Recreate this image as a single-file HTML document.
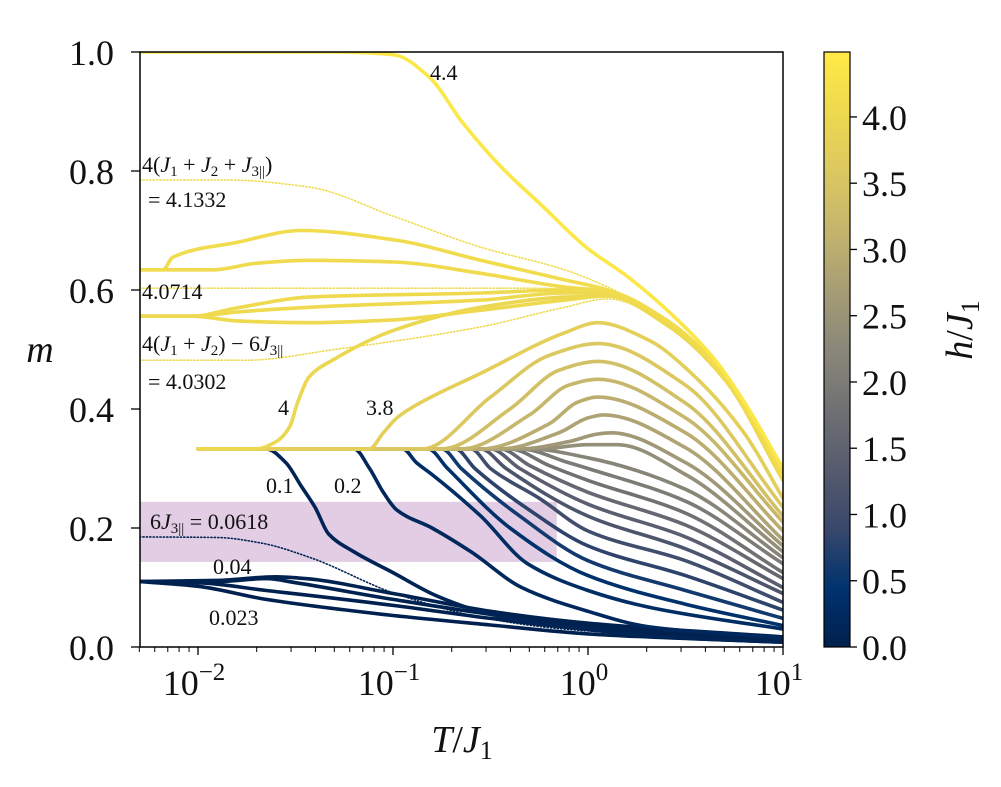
<!DOCTYPE html>
<html><head><meta charset="utf-8"><style>
html,body{margin:0;padding:0;background:#fff;}
svg text{font-family:"Liberation Serif",serif;fill:#111;}
</style></head><body>
<svg id="chart" width="1001" height="782" viewBox="0 0 1001 782" xmlns="http://www.w3.org/2000/svg">
<defs>
<clipPath id="plotclip"><rect x="140" y="52" width="643" height="595"/></clipPath>
<linearGradient id="cbgrad" x1="0" y1="1" x2="0" y2="0">
<stop offset="0" stop-color="#00204d"/><stop offset="0.1" stop-color="#00336f"/><stop offset="0.2" stop-color="#39486b"/><stop offset="0.3" stop-color="#575c6e"/><stop offset="0.4" stop-color="#707173"/><stop offset="0.5" stop-color="#8a8779"/><stop offset="0.6" stop-color="#a69d75"/><stop offset="0.7" stop-color="#c4b56c"/><stop offset="0.8" stop-color="#dcc860"/><stop offset="0.9" stop-color="#eed94f"/><stop offset="1" stop-color="#ffea46"/>
</linearGradient>
</defs>
<rect x="140" y="52" width="643" height="595" fill="#fff"/>
<g id="bandg" clip-path="url(#plotclip)"></g>
<g id="curves" clip-path="url(#plotclip)"></g>
<rect x="140" y="52" width="643" height="595" fill="none" stroke="#000" stroke-width="1.5"/>
<g id="axes"></g>
<g id="annot" font-size="22">
<text x="430" y="80">4.4</text>
<text x="142" y="172">4(<tspan font-style="italic">J</tspan><tspan font-size="15" dy="4">1</tspan><tspan dy="-4"> + </tspan><tspan font-style="italic">J</tspan><tspan font-size="15" dy="4">2</tspan><tspan dy="-4"> + </tspan><tspan font-style="italic">J</tspan><tspan font-size="15" dy="4">3||</tspan><tspan dy="-4">)</tspan></text>
<text x="148" y="207">= 4.1332</text>
<text x="142" y="299">4.0714</text>
<text x="142" y="351">4(<tspan font-style="italic">J</tspan><tspan font-size="15" dy="4">1</tspan><tspan dy="-4"> + </tspan><tspan font-style="italic">J</tspan><tspan font-size="15" dy="4">2</tspan><tspan dy="-4">) − 6</tspan><tspan font-style="italic">J</tspan><tspan font-size="15" dy="4">3||</tspan></text>
<text x="148" y="389">= 4.0302</text>
<text x="278" y="415">4</text>
<text x="366" y="415">3.8</text>
<text x="266" y="493">0.1</text>
<text x="334" y="493">0.2</text>
<text x="150" y="529">6<tspan font-style="italic">J</tspan><tspan font-size="15" dy="4">3||</tspan><tspan dy="-4"> = 0.0618</tspan></text>
<text x="213" y="574">0.04</text>
<text x="209" y="625">0.023</text>
</g>
<rect x="824" y="52" width="26" height="595" fill="url(#cbgrad)" stroke="#000" stroke-width="1.2"/>
<g id="cbaxis"></g>
<text x="40" y="362" font-size="38" font-style="italic" text-anchor="middle">m</text>
<text x="462" y="752" font-size="38" text-anchor="middle"><tspan font-style="italic">T</tspan>/<tspan font-style="italic">J</tspan><tspan font-size="26" dy="7">1</tspan></text>
<text transform="translate(972,330) rotate(-90)" font-size="38" text-anchor="middle"><tspan font-style="italic">h</tspan>/<tspan font-style="italic">J</tspan><tspan font-size="26" dy="7">1</tspan></text>
</svg>
<script>
// ---- data ----
const xTickExps = [-2, -1, 0, 1];
const yTickValues = [0.0, 0.2, 0.4, 0.6, 0.8, 1.0];
const yTickLabels = ["0.0", "0.2", "0.4", "0.6", "0.8", "1.0"];
const cbTickValues = [0, 0.5, 1, 1.5, 2, 2.5, 3, 3.5, 4];
const cbTickLabels = ["0.0", "0.5", "1.0", "1.5", "2.0", "2.5", "3.0", "3.5", "4.0"];
const bandRange = [0.143, 0.244];
const bandLogTMax = -0.16;
const seriesH = [0.023,0.03,0.04,0.05,0.0618,0.1,0.2,0.3,0.4,0.6,0.8,1.0,1.2,1.4,1.6,1.8,2.0,2.2,2.4,2.6,2.8,3.0,3.2,3.4,3.6,3.8,4.0,4.0302,4.04,4.05,4.06,4.0714,4.1,4.12,4.1332,4.4];
const seriesDotted = [0,0,0,0,1,0,0,0,0,0,0,0,0,0,0,0,0,0,0,0,0,0,0,0,0,0,0,1,0,0,0,1,0,0,1,0];
const seriesLogT = [
[-2.3,-2,-1.65,-1,-0.5,0,1],
[-2.3,-2,-1.65,-1,-0.5,0,1],
[-2.3,-1.9,-1.65,-1.5,-1,-0.5,0,1],
[-2.3,-1.9,-1.6,-1.45,-1,-0.5,0,1],
[-2.3,-1.9,-1.68,-1.43,-0.99,-0.55,-0.12,0.5,1],
[-2,-1.65,-1.55,-1.47,-1.4,-1.33,-1.2,-1,-0.77,-0.5,-0.12,0.5,1],
[-2,-1.2,-1.12,-1.05,-0.98,-0.8,-0.6,-0.34,0,0.31,1],
[-2,-0.95,-0.88,-0.8,-0.55,-0.31,0,0.31,1],
[-2,-0.82,-0.72,-0.4,0,0.5,1],
[-2,-0.75,-0.65,-0.35,0,0.5,1],
[-2,-0.68,-0.58,-0.3,0,0.5,1],
[-2,-0.6,-0.5,-0.25,0,0.5,1],
[-2,-0.55,-0.42,0,0.5,1],
[-2,-0.5,-0.35,0,0.5,1],
[-2,-0.45,-0.3,0,0.5,1],
[-2,-0.4,-0.2,0,0.5,1],
[-2,-0.35,-0.1,0,0.5,1],
[-2,-0.3,0,0.5,1],
[-2,-0.25,0,0.15,0.5,1],
[-2,-0.35,-0.1,0.05,0.12,0.5,1],
[-2,-0.45,-0.15,0,0.08,0.5,1],
[-2,-0.55,-0.2,-0.05,0.05,0.5,1],
[-2,-0.65,-0.3,-0.1,0.05,0.5,1],
[-2,-0.75,-0.4,-0.15,0.05,0.5,1],
[-2,-0.85,-0.5,-0.2,0.05,0.5,1],
[-2,-1.12,-1.05,-0.98,-0.9,-0.55,-0.12,0.05,0.31,0.53,0.8,1],
[-2,-1.7,-1.6,-1.53,-1.49,-1.43,-1.31,-0.99,-0.55,-0.12,0.1,0.4,0.7,1],
[-2.3,-1.75,-1.3,-0.55,-0.12,0.1,0.4,0.7,1],
[-2.3,-2.03,-1.8,-1.43,-0.99,-0.55,-0.12,0.1,0.4,0.7,1],
[-2.3,-2.03,-1.8,-1.43,-0.55,-0.12,0.1,0.4,0.7,1],
[-2.3,-2.03,-1.8,-1.43,-0.55,-0.12,0.1,0.4,0.7,1],
[-2.3,-1,-0.3,0.1,0.4,0.7,1],
[-2.3,-1.92,-1.7,-1.43,-0.99,-0.55,-0.12,0.1,0.4,0.7,1],
[-2.3,-2.18,-2.13,-1.8,-1.47,-0.99,-0.55,-0.12,0.1,0.4,0.7,1],
[-2.3,-1.86,-1.43,-0.99,-0.55,-0.12,0.1,0.4,0.7,1],
[-2.3,-1.3,-1.1,-0.99,-0.815,-0.64,-0.446,-0.23,-0.01,0.205,0.426,0.64,0.795,1]
];
const seriesM = [
[.11,.102,.08,.053,.037,.022,.008],
[.11,.108,.095,.07,.048,.03,.012],
[.11,.11,.115,.108,.08,.055,.035,.015],
[.11,.112,.118,.115,.09,.06,.04,.017],
[.185,.184,.175,.151,.09,.05,.03,.018,.012],
[.333,.333,.31,.27,.235,.19,.16,.125,.085,.055,.034,.015,.008],
[.333,.333,.3,.26,.23,.2,.16,.10,.06,.034,.015],
[.333,.333,.31,.29,.22,.14,.095,.067,.03],
[.333,.333,.30,.20,.12,.072,.036],
[.333,.333,.30,.22,.145,.095,.048],
[.333,.333,.30,.23,.17,.12,.062],
[.333,.333,.30,.25,.195,.145,.075],
[.333,.333,.30,.22,.165,.09],
[.333,.333,.30,.24,.185,.10],
[.333,.333,.305,.26,.205,.115],
[.333,.333,.305,.28,.225,.125],
[.333,.333,.31,.30,.245,.14],
[.333,.333,.318,.265,.15],
[.333,.333,.34,.34,.29,.16],
[.333,.333,.345,.358,.36,.31,.17],
[.333,.333,.36,.385,.39,.335,.18],
[.333,.333,.375,.412,.42,.36,.195],
[.333,.333,.39,.44,.45,.385,.21],
[.333,.333,.40,.465,.48,.41,.22],
[.333,.333,.42,.49,.51,.44,.235],
[.333,.333,.36,.385,.403,.46,.528,.545,.516,.46,.36,.25],
[.333,.333,.345,.37,.41,.454,.482,.533,.571,.588,.59,.542,.45,.28],
[.482,.482,.5,.538,.571,.585,.545,.45,.28],
[.556,.556,.548,.545,.55,.566,.583,.59,.545,.452,.283],
[.556,.556,.563,.571,.583,.595,.595,.547,.454,.284],
[.556,.556,.57,.588,.595,.6,.597,.548,.455,.285],
[.603,.603,.603,.598,.55,.455,.285],
[.634,.634,.645,.65,.647,.628,.605,.598,.55,.456,.288],
[.634,.634,.655,.68,.70,.684,.65,.617,.6,.55,.458,.29],
[.785,.785,.773,.723,.672,.634,.605,.55,.45,.29],
[1,1,.998,.995,.958,.88,.807,.74,.672,.622,.56,.487,.415,.3]
];
const hMax = 4.49;
// ---- scales ----
function xs(lt){ return 198 + 195*(lt+2); }
function ys(m){ return 647 - 595*m; }
function cbY(h){ return 647 - 595*h/hMax; }
const NS = "http://www.w3.org/2000/svg";
function mk(tag, attrs, parent){ const e=document.createElementNS(NS,tag); for(const k in attrs) e.setAttribute(k,attrs[k]); parent.appendChild(e); return e; }
const cstops=[[0,[0,32,77]],[.1,[0,51,111]],[.2,[57,72,107]],[.3,[87,92,110]],[.4,[112,113,115]],[.5,[138,135,121]],[.6,[166,157,117]],[.7,[196,181,108]],[.8,[220,200,96]],[.9,[238,217,79]],[1,[255,234,70]]];
function cmap(t){ t=Math.max(0,Math.min(1,t)); for(let i=1;i<cstops.length;i++){ if(t<=cstops[i][0]){ const a=cstops[i-1],b=cstops[i]; const f=(t-a[0])/(b[0]-a[0]); const c=a[1].map((v,j)=>Math.round(v+(b[1][j]-v)*f)); return `rgb(${c[0]},${c[1]},${c[2]})`; } } return 'rgb(255,234,70)'; }
// monotone cubic (Fritsch-Carlson) path, x strictly increasing
function smoothPath(pts){
  const n=pts.length, dx=[], s=[], m=[];
  for(let i=0;i<n-1;i++){ dx[i]=pts[i+1][0]-pts[i][0]; s[i]=(pts[i+1][1]-pts[i][1])/dx[i]; }
  m[0]=s[0]; m[n-1]=s[n-2];
  for(let i=1;i<n-1;i++){ if(s[i-1]*s[i]<=0) m[i]=0; else { const w1=2*dx[i]+dx[i-1], w2=dx[i]+2*dx[i-1]; m[i]=(w1+w2)/(w1/s[i-1]+w2/s[i]); } }
  let d=`M${pts[0][0].toFixed(1)},${pts[0][1].toFixed(1)}`;
  for(let i=0;i<n-1;i++){
    const h=dx[i]/3;
    d+=` C${(pts[i][0]+h).toFixed(1)},${(pts[i][1]+m[i]*h).toFixed(1)} ${(pts[i+1][0]-h).toFixed(1)},${(pts[i+1][1]-m[i+1]*h).toFixed(1)} ${pts[i+1][0].toFixed(1)},${pts[i+1][1].toFixed(1)}`;
  }
  return d;
}
// band
const bandg=document.getElementById('bandg');
const band=mk('rect',{x:140,y:ys(bandRange[1]),width:xs(bandLogTMax)-140,height:ys(bandRange[0])-ys(bandRange[1]),fill:'#e3cde4'},bandg);


// curves
const cg=document.getElementById('curves');
for(let i=0;i<seriesH.length;i++){
  const pts=seriesLogT[i].map((lt,j)=>[xs(lt),ys(seriesM[i][j])]);
  const dotted=seriesDotted[i]===1;
  const p=mk('path',{d:smoothPath(pts),fill:'none',stroke:cmap(seriesH[i]/hMax),'stroke-width':dotted?1.6:3.6,'stroke-linecap':'round','stroke-linejoin':'round'},cg);
  if(dotted) p.setAttribute('stroke-dasharray','1.2 2.2');
  
  
}
// axes
const ax=document.getElementById('axes');
for(let k=0;k<xTickExps.length;k++){
  const e=xTickExps[k]; const x=xs(e);
  mk('line',{x1:x,y1:647,x2:x,y2:655,stroke:'#000','stroke-width':1.3},ax);
  const t=mk('text',{x:x-4,y:695,'font-size':36,'text-anchor':'middle'},ax);
  t.innerHTML=`10<tspan font-size="25" dy="-15">${e<0?'−'+(-e):e}</tspan>`;
  
  
}
for(let e=-3;e<1;e++){ for(let m=2;m<10;m++){ const lt=e+Math.log10(m); if(lt<-2.302||lt>1) continue; const x=xs(lt); mk('line',{x1:x,y1:647,x2:x,y2:652,stroke:'#000','stroke-width':1},ax);} }
for(let k=0;k<yTickValues.length;k++){
  const y=ys(yTickValues[k]);
  mk('line',{x1:131,y1:y,x2:140,y2:y,stroke:'#000','stroke-width':1.3},ax);
  const t=mk('text',{x:114,y:y+13,'font-size':36,'text-anchor':'end'},ax);
  t.textContent=yTickLabels[k];
  
  
}
const cb=document.getElementById('cbaxis');
for(let k=0;k<cbTickValues.length;k++){
  const y=cbY(cbTickValues[k]);
  mk('line',{x1:850,y1:y,x2:857,y2:y,stroke:'#000','stroke-width':1.3},cb);
  const t=mk('text',{x:862,y:y+13,'font-size':36},cb);
  t.textContent=cbTickLabels[k];
  
  
}
</script>
</body></html>
